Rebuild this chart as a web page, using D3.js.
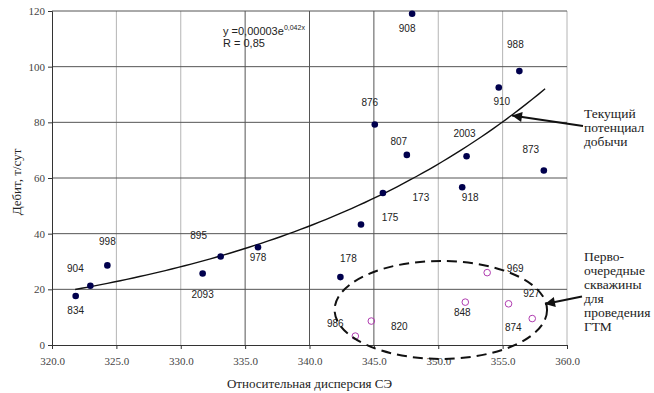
<!DOCTYPE html>
<html>
<head>
<meta charset="utf-8">
<script src="https://cdn.jsdelivr.net/npm/d3@7"></script>
<style>
  body { margin: 0; background: #fff; }
  svg { display: block; }
</style>
</head>
<body>
<div id="chart"></div>
<script>
// wells on the main scatter (filled)
var wellIds = ['834', '904', '998', '2093', '895', '978', '178', '175', '173',
               '876', '807', '908', '2003', '918', '910', '988', '873'];
var wellX = [321.84, 322.98, 324.3, 331.7, 333.1, 336.0, 342.4, 344.0, 345.7,
             345.07, 347.56, 347.97, 352.2, 351.86, 354.7, 356.3, 358.2];
var wellY = [17.6, 21.3, 28.6, 25.7, 31.8, 35.1, 24.4, 43.3, 54.6,
             79.2, 68.3, 119.0, 67.8, 56.7, 92.5, 98.4, 62.7];

// first-priority wells for GTM (open circles)
var gtmIds = ['986', '820', '969', '848', '927', '874'];
var gtmX = [343.56, 344.8, 353.8, 352.1, 355.46, 357.3];
var gtmY = [3.2, 8.6, 26.0, 15.4, 14.8, 9.5];

// label offsets in px (layout only)
var wellLabelDx = [0, -15, 0, 0, -22, 0, 8, 29, 38, -5, -8, -5, -2, 8, 3, -4, -13];
var wellLabelDy = [14, -17, -24, 21, -21, 10, -19, -7, 4, -22, -13, 15, -23, 10, 14, -27, -21];
var gtmLabelDx = [-20, 28, 28, -3, 23, -19];
var gtmLabelDy = [-13, 5, -4, 10, -10, 9];

var xTicks = [320, 325, 330, 335, 340, 345, 350, 355, 360];
var yTicks = [0, 20, 40, 60, 80, 100, 120];
var darkVLines = [335, 340, 345];

// trend y = a*exp(b*x), shown rounded on the chart
var trendA = 0.0000278, trendB = 0.0419;
var trendRange = [321.8, 358.3];

var width = 654, height = 393;
var margin = {left: 52, right: 87, top: 11, bottom: 48};

var svg = d3.select('#chart').append('svg')
    .attr('width', width)
    .attr('height', height);

var x = d3.scaleLinear().domain([320, 360]).range([margin.left, width - margin.right]);
var y = d3.scaleLinear().domain([0, 120]).range([height - margin.bottom, margin.top]);

var serif = "'Liberation Serif', 'DejaVu Serif', 'Times New Roman', serif";
var sans = "'Liberation Sans', Arial, sans-serif";

// grid
svg.append('g').selectAll('line')
    .data(xTicks.slice(1))
    .enter().append('line')
    .attr('x1', function(d) { return x(d); })
    .attr('x2', function(d) { return x(d); })
    .attr('y1', y(0)).attr('y2', y(120))
    .attr('stroke', function(d) { return darkVLines.indexOf(d) >= 0 ? '#555' : '#b4b4b4'; })
    .attr('stroke-width', 1);

svg.append('g').selectAll('line')
    .data(yTicks.slice(1))
    .enter().append('line')
    .attr('x1', x(320)).attr('x2', x(360))
    .attr('y1', function(d) { return y(d); })
    .attr('y2', function(d) { return y(d); })
    .attr('stroke', '#555')
    .attr('stroke-width', 1);

// axes
var xAxis = svg.append('g')
    .attr('transform', 'translate(0,' + y(0) + ')')
    .call(d3.axisBottom(x).tickValues(xTicks).tickFormat(d3.format('.1f')).tickSize(4).tickPadding(8));
var yAxis = svg.append('g')
    .attr('transform', 'translate(' + x(320) + ',0)')
    .call(d3.axisLeft(y).tickValues(yTicks).tickSize(4).tickPadding(3));

[xAxis, yAxis].forEach(function(ax) {
    ax.attr('font-family', serif).attr('font-size', 11);
    ax.select('.domain').attr('stroke', '#333');
    ax.selectAll('.tick line').attr('stroke', '#333');
    ax.selectAll('.tick text').attr('fill', '#444');
});

// axis titles
svg.append('text')
    .attr('x', x(340)).attr('y', 388)
    .attr('text-anchor', 'middle')
    .attr('font-family', serif).attr('font-size', 13)
    .attr('fill', '#222')
    .text('Относительная дисперсия СЭ');

svg.append('text')
    .attr('transform', 'translate(21,182) rotate(-90)')
    .attr('text-anchor', 'middle')
    .attr('font-family', serif).attr('font-size', 13)
    .attr('fill', '#222')
    .text('Дебит, т/сут');

// trend line
var trendPts = d3.range(trendRange[0], trendRange[1] + 0.01, 0.5).map(function(v) {
    return [v, trendA * Math.exp(trendB * v)];
});
svg.append('path')
    .datum(trendPts)
    .attr('fill', 'none')
    .attr('stroke', '#111')
    .attr('stroke-width', 1.4)
    .attr('d', d3.line().x(function(d) { return x(d[0]); }).y(function(d) { return y(d[1]); }));

// equation
var eq = svg.append('text')
    .attr('x', 223).attr('y', 35)
    .attr('font-family', sans).attr('font-size', 11)
    .attr('fill', '#222');
eq.append('tspan').text('y =0,00003e');
eq.append('tspan').attr('dy', -5).attr('font-size', 7).text('0,042x');
svg.append('text')
    .attr('x', 223).attr('y', 47)
    .attr('font-family', sans).attr('font-size', 11)
    .attr('fill', '#222')
    .text('R = 0,85');

// points
var wells = wellIds.map(function(id, i) {
    return {id: id, x: wellX[i], y: wellY[i], dx: wellLabelDx[i], dy: wellLabelDy[i]};
});
var gtm = gtmIds.map(function(id, i) {
    return {id: id, x: gtmX[i], y: gtmY[i], dx: gtmLabelDx[i], dy: gtmLabelDy[i]};
});

svg.append('g').selectAll('circle')
    .data(wells)
    .enter().append('circle')
    .attr('cx', function(d) { return x(d.x); })
    .attr('cy', function(d) { return y(d.y); })
    .attr('r', 3.3)
    .attr('fill', '#00004d');

svg.append('g').selectAll('circle')
    .data(gtm)
    .enter().append('circle')
    .attr('cx', function(d) { return x(d.x); })
    .attr('cy', function(d) { return y(d.y); })
    .attr('r', 3.3)
    .attr('fill', 'none')
    .attr('stroke', '#b03cb0')
    .attr('stroke-width', 1);

svg.append('g').selectAll('text')
    .data(wells.concat(gtm))
    .enter().append('text')
    .attr('x', function(d) { return x(d.x) + d.dx; })
    .attr('y', function(d) { return y(d.y) + d.dy; })
    .attr('dy', '0.35em')
    .attr('text-anchor', 'middle')
    .attr('font-family', sans).attr('font-size', 10)
    .attr('fill', '#222')
    .text(function(d) { return d.id; });

// dashed ellipse around GTM candidates
var ell = {cx: 350.2, cy: 12.6, rx: 8.25, ry: 17.6};
svg.append('ellipse')
    .attr('cx', x(ell.cx)).attr('cy', y(ell.cy))
    .attr('rx', x(ell.cx + ell.rx) - x(ell.cx))
    .attr('ry', y(0) - y(ell.ry))
    .attr('fill', 'none')
    .attr('stroke', '#111')
    .attr('stroke-width', 2)
    .attr('stroke-dasharray', '10,6');

// annotations with arrows
svg.append('defs').append('marker')
    .attr('id', 'arrow')
    .attr('viewBox', '0 0 10 10')
    .attr('refX', 10).attr('refY', 5)
    .attr('markerWidth', 6).attr('markerHeight', 5)
    .attr('orient', 'auto')
    .append('path')
    .attr('d', 'M0,0L10,5L0,10z')
    .attr('fill', '#111');

function note(lines, tx, ty, from, to) {
    var t = svg.append('text')
        .attr('font-family', serif).attr('font-size', 13.5)
        .attr('fill', '#222');
    lines.forEach(function(s, i) {
        t.append('tspan').attr('x', tx).attr('y', ty + i * 14).text(s);
    });
    svg.append('line')
        .attr('x1', from[0]).attr('y1', from[1])
        .attr('x2', to[0]).attr('y2', to[1])
        .attr('stroke', '#111')
        .attr('stroke-width', 2)
        .attr('marker-end', 'url(#arrow)');
}

note(['Текущий', 'потенциал', 'добычи'], 584, 118, [583, 126], [512, 115.5]);
note(['Перво-', 'очередные', 'скважины', 'для', 'проведения', 'ГТМ'], 584, 261, [582, 296.5], [545, 304]);
</script>
</body>
</html>
